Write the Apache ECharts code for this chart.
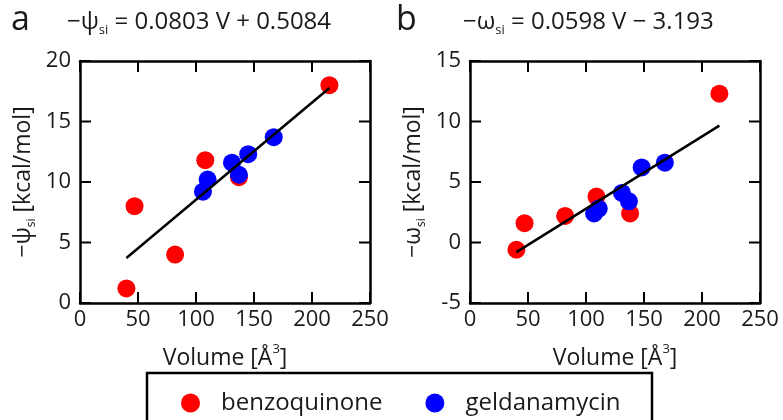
<!DOCTYPE html>
<html>
<head>
<meta charset="utf-8">
<script src="https://cdn.jsdelivr.net/npm/echarts@6/dist/echarts.min.js"></script>
<style>
  html, body { margin: 0; padding: 0; background: #fff; }
  #main { width: 783px; height: 420px; }
</style>
</head>
<body>
<div id="main"></div>
<script>
// values
var volRedA = [40, 47, 82, 108, 137, 215];
var psiRed = [1.2, 8.0, 4.0, 11.8, 10.4, 18.0];
var volBlueA = [106, 110, 131, 137, 145, 167];
var psiBlue = [9.2, 10.2, 11.6, 10.6, 12.3, 13.7];

var volRedB = [40, 47, 82, 109, 138, 215];
var omegaRed = [-0.6, 1.6, 2.2, 3.8, 2.4, 12.3];
var volBlueB = [107, 111, 131, 137, 148, 168];
var omegaBlue = [2.4, 2.8, 4.1, 3.4, 6.2, 6.6];

// fitted lines (endpoints)
var fitVol = [40, 215];
var fitPsi = [3.72, 17.77];
var fitOmega = [-0.80, 9.66];

// tick positions
var xTicks = [0, 50, 100, 150, 200, 250];
var psiTicks = [0, 5, 10, 15, 20];
var omegaTicks = [-5, 0, 5, 10, 15];

function pairs(xs, ys) {
    return xs.map(function (x, i) { return [x, ys[i]]; });
}

window.onload = function () {
    var myChart = echarts.init(document.getElementById('main'));
    var font = 'Open Sans';
    var txt = '#1a1a1a';
    var fs = 22;

    var nameRich = {
        m: { fontSize: 23, fontFamily: font, fontWeight: 'normal', color: txt, lineHeight: 30 },
        sub: { fontSize: 12, fontFamily: font, fontWeight: 'normal', color: txt, verticalAlign: 'bottom', lineHeight: 10 },
        sup: { fontSize: 13, fontFamily: font, fontWeight: 'normal', color: txt, verticalAlign: 'top', lineHeight: 26 }
    };

    function xAx(gi, show) {
        return {
            type: 'value', gridIndex: gi, min: 0, max: 250, interval: 50,
            position: show ? 'bottom' : 'top',
            axisLine: { show: true, onZero: false, lineStyle: { color: '#000', width: 2.5 } },
            axisTick: { show: false },
            axisLabel: { show: show, color: txt, fontSize: fs, fontFamily: font, margin: 6 },
            splitLine: { show: false },
            name: show ? '{m|Volume [Å}{sup|3}{m|]}' : '',
            nameLocation: 'middle', nameGap: 40,
            nameTextStyle: { rich: nameRich }
        };
    }
    function yAx(gi, show, min, max, nm) {
        return {
            type: 'value', gridIndex: gi, min: min, max: max, interval: 5,
            position: show ? 'left' : 'right',
            axisLine: { show: true, onZero: false, lineStyle: { color: '#000', width: 2.5 } },
            axisTick: { show: false },
            axisLabel: { show: show, color: txt, fontSize: fs, fontFamily: font, margin: 9 },
            splitLine: { show: false },
            name: show ? nm : '',
            nameLocation: 'middle', nameGap: 42,
            nameTextStyle: { rich: nameRich }
        };
    }

    function scatter(name, color, xi, data) {
        return {
            name: name, type: 'scatter', xAxisIndex: xi, yAxisIndex: xi,
            symbol: 'circle', symbolSize: 18, data: data,
            itemStyle: { color: color, opacity: 1 }
        };
    }
    function fit(xi, data) {
        return {
            type: 'line', xAxisIndex: xi, yAxisIndex: xi, data: data,
            symbol: 'none', z: 5, silent: true,
            lineStyle: { color: '#000', width: 2.5 }
        };
    }

    var titleRich = {
        m: { fontSize: 24, fontFamily: font, fontWeight: 'normal', color: txt, lineHeight: 30 },
        sub: { fontSize: 13, fontFamily: font, fontWeight: 'normal', color: txt, verticalAlign: 'bottom', lineHeight: 10 }
    };

    var legendBox = { type: 'rect', shape: { x: 147, y: 373, width: 505, height: 60 },
                      style: { fill: 'none', stroke: '#000', lineWidth: 2.5 }, silent: true };

    var option = {
        backgroundColor: '#fff',
        animation: false,
        title: [
            { text: 'a', left: 6, top: -2, textStyle: { fontSize: 34, fontWeight: 'normal', fontFamily: font, color: txt } },
            { text: 'b', left: 391, top: -2, textStyle: { fontSize: 34, fontWeight: 'normal', fontFamily: font, color: txt } },
            { text: '{m|−ψ}{sub|si}{m| = 0.0803 V + 0.5084}', left: 62, top: 2,
              textStyle: { rich: titleRich } },
            { text: '{m|−ω}{sub|si}{m| = 0.0598 V − 3.193}', left: 458, top: 2,
              textStyle: { rich: titleRich } }
        ],
        grid: [
            { left: 80, width: 290, top: 61, height: 242 },
            { left: 470, width: 290, top: 61, height: 242 }
        ],
        xAxis: [xAx(0, true), xAx(1, true), xAx(0, false), xAx(1, false)],
        yAxis: [
            yAx(0, true, 0, 20, '{m|−ψ}{sub|si}{m| [kcal/mol]}'),
            yAx(1, true, -5, 15, '{m|−ω}{sub|si}{m| [kcal/mol]}'),
            yAx(0, false, 0, 20, ''),
            yAx(1, false, -5, 15, '')
        ],
        legend: {
            left: 176, top: 386,
            itemWidth: 19, itemHeight: 19, itemGap: 43,
            icon: 'circle',
            data: ['benzoquinone', 'geldanamycin'],
            textStyle: { fontSize: 24, fontFamily: font, color: txt, padding: [0, 0, 0, 16] }
        },
        graphic: [legendBox],
        series: [
            scatter('benzoquinone', '#ff0000', 0, pairs(volRedA, psiRed)),
            scatter('geldanamycin', '#0000ff', 0, pairs(volBlueA, psiBlue)),
            fit(0, pairs(fitVol, fitPsi)),
            scatter('benzoquinone', '#ff0000', 1, pairs(volRedB, omegaRed)),
            scatter('geldanamycin', '#0000ff', 1, pairs(volBlueB, omegaBlue)),
            fit(1, pairs(fitVol, fitOmega))
        ]
    };
    myChart.setOption(option, true);

    // inward ticks on all four sides, placed through the grids' own scales
    var L = 11;
    var tickEls = [];
    function seg(x1, y1, x2, y2) {
        tickEls.push({ type: 'line', z: 100, silent: true,
            shape: { x1: x1, y1: y1, x2: x2, y2: y2 },
            style: { stroke: '#000', lineWidth: 2 } });
    }
    function addTicks(gi, yTicks) {
        var ymin = yTicks[0], ymax = yTicks[yTicks.length - 1];
        var xmin = xTicks[0], xmax = xTicks[xTicks.length - 1];
        xTicks.forEach(function (v) {
            var p = myChart.convertToPixel({ gridIndex: gi }, [v, ymin]);
            var q = myChart.convertToPixel({ gridIndex: gi }, [v, ymax]);
            seg(p[0], p[1], p[0], p[1] - L);
            seg(q[0], q[1], q[0], q[1] + L);
        });
        yTicks.forEach(function (v) {
            var p = myChart.convertToPixel({ gridIndex: gi }, [xmin, v]);
            var q = myChart.convertToPixel({ gridIndex: gi }, [xmax, v]);
            seg(p[0], p[1], p[0] + L, p[1]);
            seg(q[0], q[1], q[0] - L, q[1]);
        });
    }
    addTicks(0, psiTicks);
    addTicks(1, omegaTicks);
    myChart.setOption({ graphic: [legendBox].concat(tickEls) });
};
</script>
</body>
</html>
